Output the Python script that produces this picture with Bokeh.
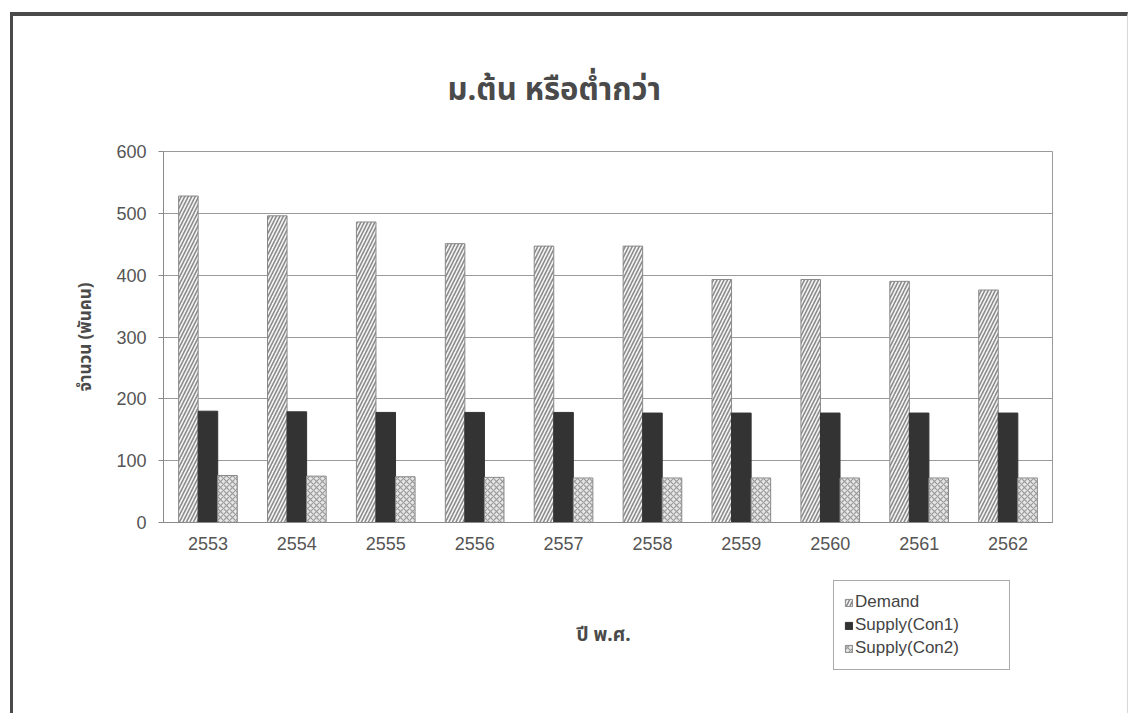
from bokeh.plotting import figure
from bokeh.layouts import column
from bokeh.models import (FactorRange, Range1d, ColumnDataSource, Legend, LegendItem,
                          Title, SingleIntervalTicker, Label)
from bokeh.transform import dodge
from bokeh.embed import file_html
from bokeh.resources import INLINE

years = ["2553", "2554", "2555", "2556", "2557", "2558", "2559", "2560", "2561", "2562"]
demand = [528, 496, 486, 451, 447, 447, 393, 393, 390, 376]
supply_con1 = [180, 179, 178, 178, 178, 177, 177, 177, 177, 177]
supply_con2 = [76, 75, 74, 73, 72, 72, 72, 72, 72, 72]
series_names = ["Demand", "Supply(Con1)", "Supply(Con2)"]
series_fields = ["demand", "s1", "s2"]
y_ticks_interval = 100

source = ColumnDataSource(dict(year=years, demand=demand, s1=supply_con1, s2=supply_con2))

THAI = "Noto Sans Thai, Tahoma, Loma, Garuda, sans-serif"
ARIAL = "Liberation Sans, Arial, sans-serif"

styles = [
    dict(fill_color="#f4f4f4", line_color="#8a8a8a", line_width=1,
         hatch_pattern="/", hatch_color="#8a8a8a", hatch_scale=7, hatch_weight=1.6),
    dict(fill_color="#333333", line_color="#333333", line_width=1),
    dict(fill_color="#e6e6e6", line_color="#8a8a8a", line_width=1,
         hatch_pattern="x", hatch_color="#9a9a9a", hatch_scale=6, hatch_weight=1.2),
]
bw = 0.22
offsets = [-bw, 0, bw]

# ---------------- main chart ----------------
p = figure(width=1114, height=560, x_range=FactorRange(*years), y_range=Range1d(0, 600),
           output_backend="svg", toolbar_location=None,
           min_border_left=150, min_border_right=75, min_border_top=135, min_border_bottom=54)
p.x_range.range_padding = 0
p.background_fill_color = "white"
p.border_fill_color = "white"
p.outline_line_color = "#9a9a9a"
p.outline_line_width = 1

for f, off, st in zip(series_fields, offsets, styles):
    p.vbar(x=dodge("year", off, range=p.x_range), top=f, width=bw, source=source, **st)

t = Title(text="ม.ต้น หรือต่ำกว่า", align="left", offset=284, standoff=76,
          text_font=THAI, text_font_size="31px", text_font_style="bold", text_color="#4a4a4a")
p.add_layout(t, "above")

p.yaxis.ticker = SingleIntervalTicker(interval=y_ticks_interval)
p.yaxis.axis_label = "จำนวน (พันคน)"
p.yaxis.axis_label_text_font = THAI
p.yaxis.axis_label_text_font_style = "bold"
p.yaxis.axis_label_text_font_size = "17px"
p.yaxis.axis_label_text_color = "#4a4a4a"
p.yaxis.axis_label_standoff = 14
p.yaxis.major_label_text_font = ARIAL
p.yaxis.major_label_text_font_size = "18px"
p.yaxis.major_label_text_color = "#555555"
p.yaxis.major_label_standoff = 12
p.yaxis.axis_line_color = "#8a8a8a"
p.yaxis.major_tick_line_color = "#8a8a8a"
p.yaxis.major_tick_out = 5
p.yaxis.major_tick_in = 0
p.yaxis.minor_tick_line_color = None

p.xaxis.major_label_text_font = ARIAL
p.xaxis.major_label_text_font_size = "18px"
p.xaxis.major_label_text_color = "#555555"
p.xaxis.major_label_standoff = 14
p.xaxis.major_tick_out = 0
p.xaxis.major_tick_in = 0
p.xaxis.axis_line_color = "#8a8a8a"
p.xaxis.major_tick_line_color = None

p.xgrid.grid_line_color = None
p.ygrid.grid_line_color = "#9a9a9a"
p.ygrid.grid_line_width = 1

# ---------------- bottom strip: x-axis title and legend ----------------
# legend proxies share the data but lie far below this strip's visible y range
p2 = figure(width=1114, height=137, x_range=FactorRange(*years), y_range=Range1d(5000, 6000),
            x_axis_type=None, y_axis_type=None, output_backend="svg", toolbar_location=None,
            min_border=0)
p2.x_range.range_padding = 0
p2.outline_line_color = None
p2.background_fill_color = "white"
p2.border_fill_color = "white"
p2.grid.grid_line_color = None

lr = [p2.vbar(x=dodge("year", off, range=p2.x_range), top=f, width=bw, source=source, **st)
      for f, off, st in zip(series_fields, offsets, styles)]

p2.add_layout(Label(x=440, y=78, x_units="screen", y_units="screen", text="ปี พ.ศ.",
                    text_align="center", text_baseline="middle", text_font=THAI,
                    text_font_size="19px", text_font_style="bold", text_color="#4a4a4a"))

legend = Legend(items=[LegendItem(label=n, renderers=[r]) for n, r in zip(series_names, lr)],
                location=(670, 43), orientation="vertical",
                glyph_width=9, glyph_height=9, label_height=22, label_width=144,
                spacing=1, padding=10, label_standoff=2, margin=0,
                label_text_font=ARIAL, label_text_font_size="17px", label_text_color="#444444",
                border_line_color="#555555", border_line_width=1, background_fill_color="white",
                background_fill_alpha=1)
p2.add_layout(legend, "center")

layout = column(p, p2, spacing=0)
layout.margin = (12, 0, 0, 10)
layout.styles = {"border-top": "4px solid #4a4a4a", "border-left": "3px solid #4a4a4a",
                 "border-right": "1px solid #d8d8d8"}

open("out.html", "w").write(file_html(layout, INLINE))
